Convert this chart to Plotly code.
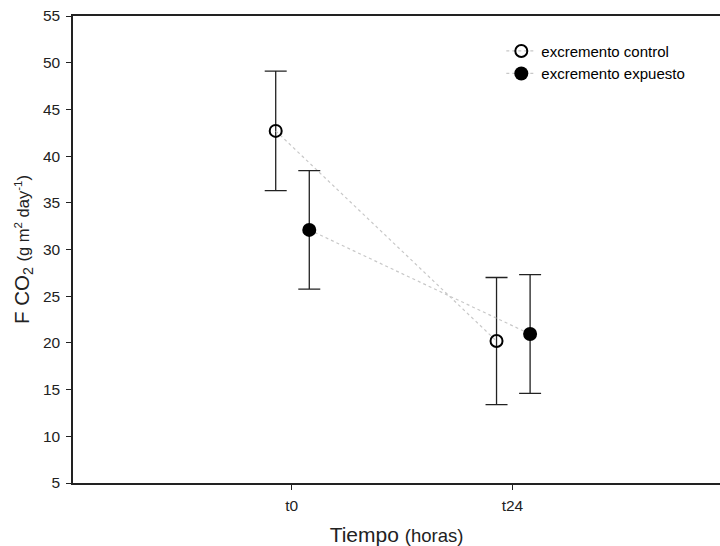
import plotly.graph_objects as go

time_labels = ["t0", "t24"]
control_mean = [42.7, 20.2]
control_err = [6.4, 6.8]
expuesto_mean = [32.1, 20.95]
expuesto_err = [6.35, 6.35]
y_ticks = [5, 10, 15, 20, 25, 30, 35, 40, 45, 50, 55]

x_base = list(range(len(time_labels)))
ctrl_x = [x - 0.072 for x in x_base]
exp_x = [x + 0.08 for x in x_base]

fig = go.Figure()
fig.add_trace(go.Scatter(
    x=ctrl_x, y=control_mean, mode="lines+markers", name="excremento control",
    line=dict(color="#c8c8c8", width=1.2, dash="dot"),
    marker=dict(symbol="circle-open", size=12, color="black", line=dict(width=2, color="black")),
    error_y=dict(type="data", array=control_err, visible=True, color="#222", thickness=1.3, width=11),
))
fig.add_trace(go.Scatter(
    x=exp_x, y=expuesto_mean, mode="lines+markers", name="excremento expuesto",
    line=dict(color="#c8c8c8", width=1.2, dash="dot"),
    marker=dict(symbol="circle", size=14, color="black"),
    error_y=dict(type="data", array=expuesto_err, visible=True, color="#222", thickness=1.3, width=11),
))

fig.update_layout(
    width=720, height=546,
    margin=dict(l=73, r=0, t=16, b=63),
    paper_bgcolor="white", plot_bgcolor="white",
    font=dict(family="Liberation Sans, Arial", color="#222", size=15),
    showlegend=True,
    legend=dict(x=0.662, y=0.96, xanchor="left", yanchor="top",
                font=dict(size=15, color="black"), bgcolor="rgba(0,0,0,0)",
                tracegroupgap=0, itemwidth=30),
    xaxis=dict(
        tickmode="array", tickvals=x_base, ticktext=time_labels,
        range=[-0.99, 1.94], showline=True, linecolor="#222", linewidth=1.5,
        mirror=True, ticks="outside", ticklen=5, tickcolor="#222",
        tickfont=dict(size=15.5), ticklabelstandoff=3,
        showgrid=False, zeroline=False,
        title=dict(text="Tiempo <span style='font-size:18.5px'>(horas)</span>",
                   font=dict(size=21), standoff=14),
    ),
    yaxis=dict(
        tickvals=y_ticks, range=[5, 55], showline=True, linecolor="#222",
        linewidth=1.5, ticks="outside", ticklen=5, tickcolor="#222",
        tickfont=dict(size=15.5), ticklabelstandoff=3,
        showgrid=False, zeroline=False,
        title=dict(text="F CO<sub>2</sub> <span style='font-size:16.5px'>(g m<sup>2</sup> day<sup>-1</sup>)</span>",
                   font=dict(size=20.5), standoff=8),
    ),
)

fig.write_html("out.html")
